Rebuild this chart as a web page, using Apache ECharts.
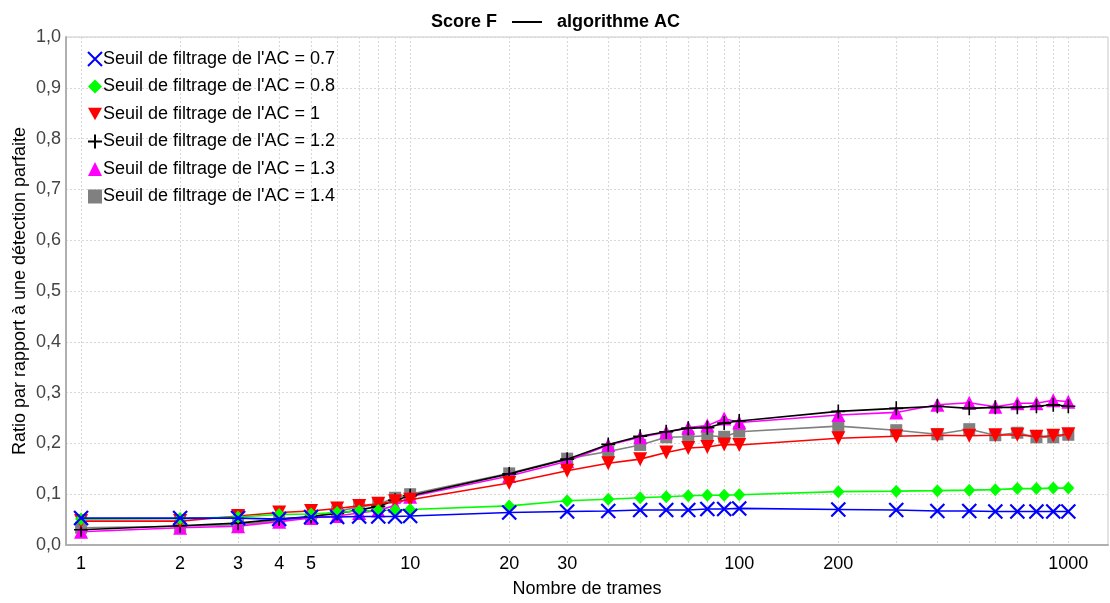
<!DOCTYPE html>
<html><head><meta charset="utf-8">
<script src="https://cdn.jsdelivr.net/npm/echarts@6/dist/echarts.min.js"></script>
<style>html,body{margin:0;padding:0;background:#fff}#c{width:1110px;height:603px}</style>
</head><body><div id="c"></div>
<script>
const frames = [1,2,3,4,5,6,7,8,9,10,20,30,40,50,60,70,80,90,100,200,300,400,500,600,700,800,900,1000];
const s07 = [0.053,0.053,0.053,0.051,0.055,0.055,0.056,0.056,0.056,0.057,0.064,0.066,0.067,0.069,0.069,0.069,0.071,0.071,0.072,0.070,0.069,0.067,0.067,0.066,0.066,0.066,0.066,0.066];
const s08 = [0.051,0.052,0.055,0.060,0.061,0.064,0.067,0.068,0.069,0.070,0.077,0.087,0.090,0.093,0.095,0.097,0.098,0.098,0.099,0.105,0.106,0.107,0.108,0.109,0.111,0.111,0.112,0.112];
const s10 = [0.047,0.047,0.057,0.064,0.067,0.072,0.077,0.081,0.086,0.089,0.122,0.146,0.161,0.169,0.182,0.191,0.193,0.198,0.197,0.210,0.214,0.216,0.215,0.216,0.217,0.213,0.215,0.218];
const s12 = [0.030,0.038,0.043,0.051,0.056,0.062,0.069,0.076,0.088,0.097,0.140,0.169,0.198,0.214,0.223,0.230,0.231,0.240,0.244,0.263,0.269,0.273,0.269,0.271,0.271,0.273,0.276,0.273];
const s13 = [0.026,0.034,0.037,0.046,0.053,0.057,0.063,0.068,0.078,0.095,0.136,0.165,0.197,0.212,0.222,0.231,0.235,0.249,0.241,0.256,0.261,0.276,0.280,0.272,0.279,0.279,0.285,0.282];
const s14 = [0.034,0.037,0.040,0.048,0.055,0.066,0.075,0.080,0.093,0.100,0.141,0.170,0.184,0.197,0.212,0.213,0.215,0.213,0.223,0.234,0.226,0.218,0.228,0.216,0.221,0.212,0.212,0.217];
const seriesNames = ["Seuil de filtrage de l'AC = 0.7","Seuil de filtrage de l'AC = 0.8","Seuil de filtrage de l'AC = 1","Seuil de filtrage de l'AC = 1.2","Seuil de filtrage de l'AC = 1.3","Seuil de filtrage de l'AC = 1.4"];
const xLabels = [1,2,3,4,5,10,20,30,100,200,1000];
const xGrid = [1,2,3,4,5,6,7,8,9,10,20,30,40,50,60,70,80,90,100,200,300,400,500,600,700,800,900,1000];

const allData = [s07,s08,s10,s12,s13,s14];
const colors = ['#0000ff','#00ff00','#ff0000','#000000','#ff00ff','#808080'];
const symbols = [
  'path://M0,0 L10,10 M10,0 L0,10',
  'diamond',
  'path://M0,0 L10,0 L5,9 Z',
  'path://M5,0 L5,10 M0,5 L10,5',
  'triangle',
  'rect'
];
const sizes = [14, [12,13], 14, 14, 14, [12,12]];
const stroked = [true,false,false,true,false,false];

const series = allData.map((d,i)=>({
  name: seriesNames[i],
  type: 'line',
  data: frames.map((f,j)=>[f,d[j]]),
  symbol: symbols[i],
  symbolSize: sizes[i],
  showAllSymbol: true,
  z: 10 - i,
  lineStyle: {color: colors[i], width: 1.6},
  itemStyle: stroked[i] ? {color: colors[i], borderColor: colors[i], borderWidth: i===0 ? 2.2 : 1.6} : {color: colors[i], borderWidth: 0},
  emphasis: {disabled: true},
  animation: false
}));

const chart = echarts.init(document.getElementById('c'));
chart.setOption({
  animation: false,
  backgroundColor: '#fff',
  title: {text: '{a|Score F }{d|\u2014}{a| algorithme AC}', left: 426, top: 7,
    textStyle: {fontFamily: 'Liberation Sans', fontSize: 18, fontWeight: 'bold', color: '#000', lineHeight: 20,
      rich: {
        a: {fontFamily: 'Liberation Sans', fontSize: 18, fontWeight: 'bold', color: '#000', lineHeight: 20},
        d: {fontFamily: 'Liberation Sans', fontSize: 30, fontWeight: 'normal', color: '#000', lineHeight: 20, padding: [0, 10]}
      }}},
  legend: {
    orient: 'vertical', left: 82, top: 45, itemGap: 9.5, itemWidth: 14, itemHeight: 14,
    data: seriesNames.map((n,i)=>({name: n, icon: symbols[i]})),
    textStyle: {fontFamily: 'Liberation Sans', fontSize: 18, lineHeight: 18, color: '#000', padding: [0,0,0,-4]},
    selectedMode: false
  },
  grid: {left: 66, right: 2, top: 37, bottom: 55, show: true, borderColor: '#c8c8c8', borderWidth: 1, containLabel: false},
  xAxis: {
    type: 'log', logBase: 10, min: 0.9, max: 1320,
    name: 'Nombre de trames', nameLocation: 'middle', nameGap: 35, nameMoveOverlap: false,
    nameTextStyle: {fontFamily: 'Liberation Sans', fontSize: 18, color: '#000'},
    axisLine: {show: true, lineStyle: {color: '#b0b0b0', width: 2}},
    axisTick: {show: false, customValues: xGrid},
    axisLabel: {customValues: xLabels, fontFamily: 'Liberation Sans', fontSize: 18, color: '#000', margin: 10,
      formatter: v => String(Math.round(v))},
    splitLine: {show: true, lineStyle: {color: '#d8d8d8', type: [2,2], width: 1}}
  },
  yAxis: {
    type: 'value', min: 0, max: 1, interval: 0.1,
    name: 'Ratio par rapport \u00e0 une d\u00e9tection parfaite', nameLocation: 'middle', nameGap: 37, nameMoveOverlap: false,
    nameTextStyle: {fontFamily: 'Liberation Sans', fontSize: 18, color: '#000'},
    axisLine: {show: true, lineStyle: {color: '#b0b0b0', width: 2}},
    axisTick: {show: false},
    axisLabel: {fontFamily: 'Liberation Sans', fontSize: 18, color: '#444', margin: 5,
      formatter: v => v.toFixed(1).replace('.', ',')},
    splitLine: {show: true, lineStyle: {color: '#d8d8d8', type: [2,2], width: 1}}
  },
  series: series
});
</script></body></html>
